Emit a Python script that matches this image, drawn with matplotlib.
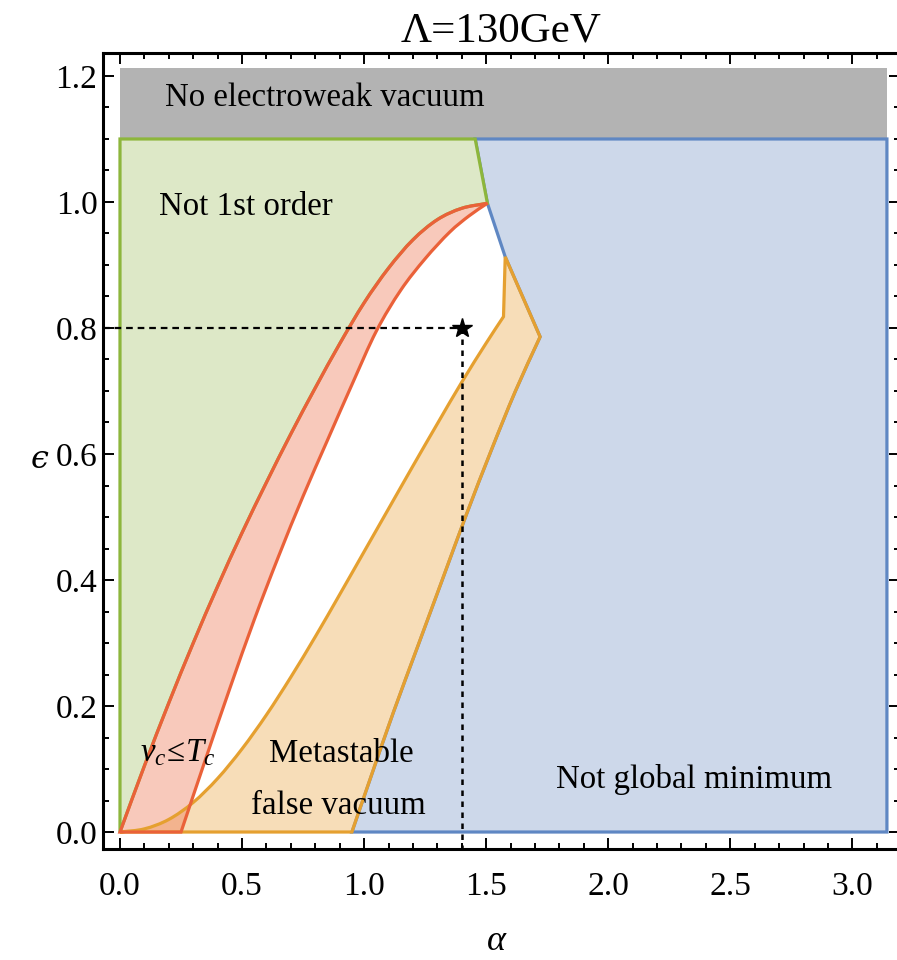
import numpy as np
import matplotlib
matplotlib.use("Agg")
import matplotlib.pyplot as plt
from matplotlib.patches import PathPatch
from matplotlib.path import Path
from matplotlib.ticker import FormatStrFormatter

plt.rcParams["font.family"] = ["Liberation Serif", "DejaVu Serif"]
plt.rcParams["mathtext.fontset"] = "custom"
plt.rcParams["mathtext.rm"] = "Liberation Serif"
plt.rcParams["mathtext.it"] = "Liberation Serif:italic"
plt.rcParams["mathtext.fallback"] = "stix"

# boundaries (alpha, epsilon)
red_outer_a = [0.0, 0.10, 0.20, 0.30, 0.40, 0.50, 0.60, 0.70, 0.80, 0.90, 1.00, 1.10, 1.20, 1.30, 1.40, 1.505]
red_outer_e = [0.0, 0.105, 0.205, 0.30, 0.39, 0.475, 0.555, 0.632, 0.705, 0.775, 0.84, 0.895, 0.94, 0.972, 0.99, 0.998]

red_inner_a = [0.25, 0.35, 0.45, 0.55, 0.65, 0.75, 0.85, 0.95, 1.05, 1.15, 1.25, 1.35, 1.43, 1.505]
red_inner_e = [0.0, 0.115, 0.228, 0.337, 0.438, 0.533, 0.622, 0.71, 0.795, 0.86, 0.91, 0.952, 0.978, 0.998]

orange_up_a = [0.0, 0.10, 0.20, 0.30, 0.40, 0.50, 0.60, 0.70, 0.80, 0.90, 1.00, 1.10, 1.20, 1.30, 1.40, 1.50, 1.571]
orange_up_e = [0.0, 0.005, 0.02, 0.047, 0.085, 0.132, 0.186, 0.246, 0.31, 0.377, 0.445, 0.513, 0.581, 0.648, 0.714, 0.776, 0.818]

orange_peak_a = [1.578]
orange_peak_e = [0.913]

orange_right_a = [1.721, 1.62, 1.52, 1.42, 1.32, 1.22, 1.12, 1.03, 0.95]
orange_right_e = [0.786, 0.70, 0.605, 0.505, 0.40, 0.295, 0.19, 0.09, 0.0]

green_edge_a = [1.455, 1.505]
green_edge_e = [1.1, 0.998]
eps_top = 1.1
eps_gray = 1.213
alpha_max = np.pi

star_a, star_e = 1.4, 0.8

labels = [
    ("No electroweak vacuum", 0.184, 1.166, "left"),
    ("Not 1st order", 0.16, 0.992, "left"),
    ("$v_c\\!\\leq\\! T_c$", 0.08, 0.125, "left"),
    ("Metastable", 0.906, 0.125, "center"),
    ("false vacuum", 0.894, 0.041, "center"),
    ("Not global minimum", 2.35, 0.084, "center"),
]

c_green_f, c_green_l = "#dde8c7", "#8db63c"
c_blue_f, c_blue_l = "#cdd8ea", "#5f87c3"
c_red_f, c_red_l = "#ee6a45", "#ea6139"
c_or_f, c_or_l = "#eba23a", "#e5a030"
c_gray = "#b3b3b3"


def smooth(xs, ys):
    """Cubic Bezier pieces through the given points (first point not included)."""
    p = np.column_stack([xs, ys]).astype(float)
    n = len(p)
    t = np.zeros_like(p)
    t[1:-1] = (p[2:] - p[:-2]) / 2
    t[0] = p[1] - p[0]
    t[-1] = p[-1] - p[-2]
    verts, codes = [], []
    for i in range(n - 1):
        verts += [p[i] + t[i] / 3, p[i + 1] - t[i + 1] / 3, p[i + 1]]
        codes += [Path.CURVE4] * 3
    return verts, codes


def lines(xs, ys):
    return [np.array([x, y]) for x, y in zip(xs, ys)], [Path.LINETO] * len(xs)


def region(start, pieces):
    verts, codes = [np.array(start, float)], [Path.MOVETO]
    for v, c in pieces:
        verts += v
        codes += c
    verts.append(verts[0])
    codes.append(Path.CLOSEPOLY)
    return Path(verts, codes)


fig = plt.figure(figsize=(8.97, 9.6), dpi=100)
ax = fig.add_axes([0.1148, 0.1156, 0.8885, 0.8292])
ax.set_xlim(-0.0697, 3.195)
ax.set_ylim(-0.027, 1.2365)

# gray band
gray = region((0, eps_top), [lines([alpha_max, alpha_max, 0], [eps_top, eps_gray, eps_gray])])
ax.add_patch(PathPatch(gray, facecolor=c_gray, edgecolor="none", zorder=1))

# blue region
blue = region((green_edge_a[0], eps_top), [
    lines([alpha_max, alpha_max], [eps_top, 0]),
    lines([orange_right_a[-1]], [orange_right_e[-1]]),
    smooth(orange_right_a[::-1], orange_right_e[::-1]),
    lines(orange_peak_a + [green_edge_a[1]], orange_peak_e + [green_edge_e[1]]),
])
ax.add_patch(PathPatch(blue, facecolor=c_blue_f, edgecolor=c_blue_l, lw=2.3, zorder=2))

# green region
green = region((0, 0), [
    lines([0, green_edge_a[0], green_edge_a[1]], [eps_top, green_edge_e[0], green_edge_e[1]]),
    smooth(red_outer_a[::-1], red_outer_e[::-1]),
])
ax.add_patch(PathPatch(green, facecolor=c_green_f, edgecolor=c_green_l, lw=2.3, zorder=3))

# orange region
orange = region((orange_up_a[0], orange_up_e[0]), [
    smooth(orange_up_a, orange_up_e),
    lines(orange_peak_a + [orange_right_a[0]], orange_peak_e + [orange_right_e[0]]),
    smooth(orange_right_a, orange_right_e),
])
ax.add_patch(PathPatch(orange, facecolor=c_or_f, alpha=0.36, edgecolor="none", zorder=4))

# red region
red = region((red_outer_a[0], red_outer_e[0]), [
    smooth(red_outer_a, red_outer_e),
    smooth(red_inner_a[::-1], red_inner_e[::-1]),
])
ax.add_patch(PathPatch(red, facecolor=c_red_f, alpha=0.36, edgecolor="none", zorder=5))

ax.add_patch(PathPatch(orange, facecolor="none", edgecolor=c_or_l, lw=2.3, zorder=6))
ax.add_patch(PathPatch(red, facecolor="none", edgecolor=c_red_l, lw=2.3, zorder=7))

# benchmark point
ax.plot([-0.0697, star_a], [star_e, star_e], color="k", lw=1.6, ls=(0, (3, 2.2)), zorder=8, clip_on=False)
ax.plot([star_a, star_a], [star_e, -0.027], color="k", lw=1.8, ls=(0, (2.2, 2.2)), zorder=8, clip_on=False)
ax.plot(star_a, star_e, marker="*", color="k", ms=15, zorder=9)

for txt, x, y, ha in labels:
    ax.text(x, y, txt, ha=ha, va="center", fontsize=23.7, zorder=10)

ax.set_xticks(np.arange(0, 3.01, 0.5))
ax.set_xticks(np.arange(0, 3.2, 0.1), minor=True)
ax.set_yticks(np.arange(0, 1.21, 0.2))
ax.set_yticks(np.arange(0, 1.23, 0.05), minor=True)
ax.xaxis.set_major_formatter(FormatStrFormatter("%.1f"))
ax.yaxis.set_major_formatter(FormatStrFormatter("%.1f"))
ax.tick_params(which="both", direction="in", top=True, right=True, width=1.4, labelsize=24)
ax.tick_params(which="major", length=8)
ax.tick_params(which="minor", length=4.5)
ax.tick_params(axis="x", pad=16)
ax.tick_params(axis="y", pad=4)
for s in ax.spines.values():
    s.set_linewidth(2.2)

ax.set_xlabel("$\\alpha$", fontsize=26, va="center")
ax.xaxis.set_label_coords(0.494, -0.1165)
ax.set_ylabel("\u03f5", fontsize=23, rotation=0, va="center", style="italic",
              family=["DejaVu Serif"])
ax.yaxis.set_label_coords(-0.079, 0.489)
ax.set_title("\u039b=130GeV", fontsize=31, pad=8)

fig.savefig("out.png", dpi=100)
